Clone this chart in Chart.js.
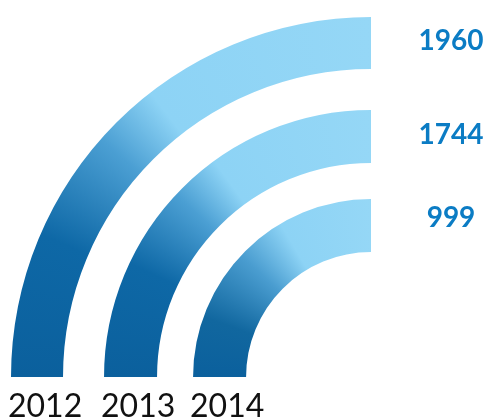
<!DOCTYPE html>
<html>
<head>
<meta charset="utf-8">
<script src="https://cdn.jsdelivr.net/npm/chart.js@4/dist/chart.umd.min.js"></script>
<style>
  html, body { margin: 0; padding: 0; background: #fff; }
  #wrap { width: 489px; height: 420px; }
</style>
</head>
<body>
<div id="wrap"><canvas id="rings" width="489" height="420"></canvas></div>
<script>
const YEARS = ['2012', '2013', '2014'];
const COUNTS = [1960, 1744, 999];

// ring thickness / gap between rings (relative weights), and label nudges
const RING_W = [52, 53, 53];
const GAP_W = [41, 36];
const LABEL_NUDGE = [-2, -2, -8];

const DARK = '#0b609d';
const LIGHT = '#8dd3f5';

// where the dark->light transition sits on each ring (fraction of a full turn, from 9 o'clock)
const STOPS = [
    [[0, DARK], [0.065, '#0e68a6'], [0.115, '#4b9fd3'], [0.145, LIGHT], [0.25, '#95d7f6']],
    [[0, DARK], [0.07, '#0e68a6'], [0.12, '#4b9fd3'], [0.15, LIGHT], [0.25, '#95d7f6']],
    [[0, DARK], [0.055, '#11679f'], [0.12, '#4a9dd0'], [0.165, LIGHT], [0.25, '#95d7f6']]
];

function ringFill(i) {
    return (c) => {
        const area = c.chart.chartArea;
        if (!area) return DARK;
        const g = c.chart.ctx.createConicGradient(Math.PI, area.right, area.bottom);
        STOPS[i].forEach(s => g.addColorStop(s[0], s[1]));
        return g;
    };
}

const datasets = [];
YEARS.forEach((yr, i) => {
    datasets.push({
        label: yr,
        data: [COUNTS[i]],
        weight: RING_W[i],
        backgroundColor: ringFill(i),
        borderWidth: 0,
        hoverOffset: 0
    });
    if (i < GAP_W.length) {
        datasets.push({ label: 'gap', data: [1], weight: GAP_W[i], backgroundColor: 'rgba(0,0,0,0)', borderWidth: 0, hoverOffset: 0 });
    }
});

const labelPlugin = {
    id: 'ringLabels',
    afterDraw(chart) {
        const ctx = chart.ctx;
        ctx.save();
        let ring = 0;
        chart.data.datasets.forEach((ds, di) => {
            if (ds.label === 'gap') return;
            const el = chart.getDatasetMeta(di).data[0];
            const mid = (el.outerRadius + el.innerRadius) / 2;
            // value at the top end of the ring
            ctx.font = "bold 28px Lato, 'Open Sans', sans-serif";
            ctx.fillStyle = '#0b7cc4';
            ctx.textAlign = 'center';
            ctx.textBaseline = 'middle';
            ctx.fillText(String(COUNTS[ring]), 451, el.y - mid + LABEL_NUDGE[ring]);
            // year under the foot of the ring
            ctx.font = "32px Lato, 'Open Sans', sans-serif";
            ctx.fillStyle = '#111';
            ctx.textAlign = 'left';
            ctx.textBaseline = 'alphabetic';
            ctx.fillText(ds.label, el.x - el.outerRadius - 3, 417);
            ring++;
        });
        ctx.restore();
    }
};

new Chart(document.getElementById('rings'), {
    type: 'doughnut',
    data: { labels: ['count'], datasets: datasets },
    options: {
        responsive: false,
        animation: false,
        rotation: -90,
        circumference: 90,
        cutout: '34.7%',
        layout: { padding: { left: 11, top: 17, right: 118, bottom: 43 } },
        plugins: { legend: { display: false }, tooltip: { enabled: false } }
    },
    plugins: [labelPlugin]
});
</script>
</body>
</html>
